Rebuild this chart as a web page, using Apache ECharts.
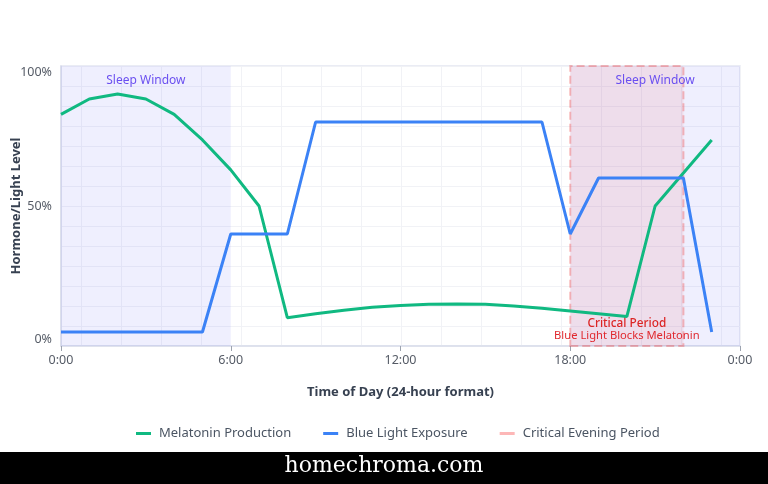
<!DOCTYPE html>
<html>
<head>
<meta charset="utf-8">
<script src="https://cdn.jsdelivr.net/npm/echarts@6/dist/echarts.min.js"></script>
<style>
html,body{margin:0;padding:0;background:#fff;}
#chart{width:768px;height:484px;}
</style>
</head>
<body>
<div id="chart"></div>
<script>
// ---- data ----
const hours = [0,1,2,3,4,5,6,7,8,9,10,11,12,13,14,15,16,17,18,19,20,21,22,23];
const melatonin = [82.7,88.2,90,88.2,82.7,73.6,62.9,50,10.1,11.5,12.8,13.8,14.5,14.9,15,14.9,14.3,13.5,12.5,11.5,10.5,50,61.8,73.6];
const blueLight = [5,5,5,5,5,5,40,40,40,80,80,80,80,80,80,80,80,80,40,60,60,60,60,5];
const sleepWindows = [[0,6],[18,24]];
const criticalPeriod = [18,22];
const yTickLabels = [0,50,100];
const seriesNames = ['Melatonin Production','Blue Light Exposure','Critical Evening Period'];

const FONT = 'Noto Sans';
const chart = echarts.init(document.getElementById('chart'), null, {renderer:'canvas'});

const option = {
  backgroundColor: '#ffffff',
  textStyle: {fontFamily: FONT},
  grid: {left: 61, right: 28, top: 66, bottom: 138, outerBoundsMode: 'none', containLabel: false,
         show: true, borderColor: '#e3e6f1', borderWidth: 1.5, backgroundColor: 'transparent'},
  legend: {
    data: seriesNames.map(n => ({name: n, icon: 'rect'})),
    top: 427,
    left: 136,
    padding: 0,
    itemGap: 32,
    itemWidth: 15,
    itemHeight: 3,
    textStyle: {fontSize: 13, color: '#4b5563', fontFamily: FONT, padding: [0, 0, 0, 3]}
  },
  xAxis: [{
    type: 'value', min: 0, max: 24, interval: 6,
    name: 'Time of Day (24-hour format)', nameLocation: 'middle', nameGap: 40,
    nameTextStyle: {fontSize: 13, fontWeight: 'bold', color: '#374151', fontFamily: FONT},
    axisLine: {lineStyle: {color: '#d9ddea', width: 1.5}},
    axisTick: {show: true, length: 5, lineStyle: {color: '#9ca3af'}},
    axisLabel: {color: '#555b66', fontSize: 12.5, margin: 8, formatter: v => (v % 24) + ':00'},
    splitLine: {show: false}
  }, {
    type: 'value', min: -0.5175, max: 16.4575, splitNumber: 17,
    show: true, axisLine: {show: false}, axisTick: {show: false}, axisLabel: {show: false},
    splitLine: {show: true, lineStyle: {color: '#f1f2f6', width: 1}}
  }],
  yAxis: [{
    type: 'value', min: 0, max: 100, interval: 50,
    name: 'Hormone/Light Level', nameLocation: 'middle', nameGap: 38, nameMoveOverlap: false,
    nameTextStyle: {fontSize: 13, fontWeight: 'bold', color: '#374151', fontFamily: FONT},
    axisLine: {show: true, lineStyle: {color: '#d9ddea', width: 1.5}},
    axisTick: {show: false},
    axisLabel: {color: '#555b66', fontSize: 12.5, margin: 9,
      verticalAlignMaxLabel: 'top', verticalAlignMinLabel: 'bottom',
      formatter: v => yTickLabels.indexOf(Math.round(v)) >= 0 ? Math.round(v) + '%' : ''},
    splitLine: {show: false}
  }, {
    type: 'value', min: 0, max: 14, interval: 1,
    show: true, axisLine: {show: false}, axisTick: {show: false}, axisLabel: {show: false},
    splitLine: {show: true, lineStyle: {color: '#f1f2f6', width: 1}}
  }],
  series: [{
    name: seriesNames[0], type: 'line', showSymbol: false, symbol: 'none',
    data: hours.map((h, i) => [h, melatonin[i]]),
    lineStyle: {width: 3, color: '#10b981'}, itemStyle: {color: '#10b981'},
    z: 3,
    markArea: {
      silent: true,
      itemStyle: {color: 'rgba(99,102,241,0.1)'},
      label: {show: true, position: 'insideTop', distance: 9, color: '#6a4ff0', fontSize: 12, fontFamily: FONT},
      data: sleepWindows.map(w => [{name: 'Sleep Window', xAxis: w[0]}, {xAxis: w[1]}])
    }
  }, {
    name: seriesNames[1], type: 'line', showSymbol: false, symbol: 'none',
    data: hours.map((h, i) => [h, blueLight[i]]),
    lineStyle: {width: 3, color: '#3b82f6'}, itemStyle: {color: '#3b82f6'},
    z: 3
  }, {
    name: seriesNames[2], type: 'line', showSymbol: false, symbol: 'none',
    data: [],
    lineStyle: {width: 3, color: 'rgba(252,165,165,0.8)'}, itemStyle: {color: 'rgba(252,165,165,0.8)'},
    markArea: {
      silent: true,
      itemStyle: {color: 'rgba(239,68,68,0.1)', borderColor: 'rgba(239,68,68,0.35)', borderWidth: 2, borderType: 'dashed'},
      label: {show: true, position: 'insideBottom', distance: 5, color: '#e0282e', fontSize: 11.2, lineHeight: 12.5, align: 'center', fontFamily: FONT,
        formatter: '{a|Critical Period}\n{b|Blue Light Blocks Melatonin}',
        rich: {
          a: {fontSize: 11.8, fontWeight: 500, color: '#dc2626', lineHeight: 12.5, fontFamily: FONT},
          b: {fontSize: 11.2, color: '#e0282e', lineHeight: 12.5, fontFamily: FONT}
        }},
      data: [[{name: 'Critical Period', xAxis: criticalPeriod[0]}, {xAxis: criticalPeriod[1]}]]
    }
  }],
  graphic: [{
    type: 'rect', left: 0, top: 452, shape: {width: 768, height: 32}, style: {fill: '#000'}, z: 100
  }, {
    type: 'text', left: 'center', top: 455, z: 101,
    style: {text: 'homechroma.com', fill: '#fff', fontSize: 22, fontFamily: 'DejaVu Serif'}
  }]
};
chart.setOption(option);
</script>
</body>
</html>
